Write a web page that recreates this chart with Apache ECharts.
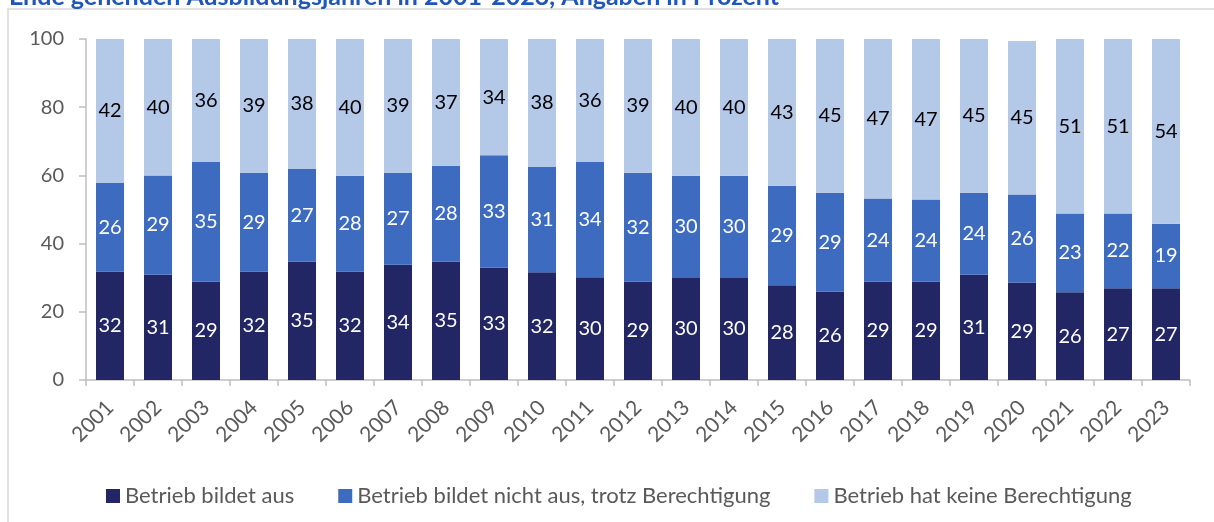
<!DOCTYPE html>
<html>
<head>
<meta charset="utf-8">
<script src="https://cdn.jsdelivr.net/npm/echarts@6/dist/echarts.min.js"></script>
<style>
  html, body { margin: 0; padding: 0; background: #fff; }
  #chart { width: 1214px; height: 522px; }
</style>
</head>
<body>
<div id="chart"></div>
<script>
const years = ['2001', '2002', '2003', '2004', '2005', '2006', '2007', '2008', '2009', '2010', '2011', '2012',
  '2013', '2014', '2015', '2016', '2017', '2018', '2019', '2020', '2021', '2022', '2023'];

// Anteile in Prozent (aus dem Bild geschaetzt, Beschriftung gerundet)
const bildetAus = [31.8, 30.9, 28.8, 31.8, 34.7, 31.8, 33.8, 34.7, 32.9, 31.6, 30.1, 28.8,
  29.9, 29.9, 27.8, 25.9, 28.8, 28.8, 30.9, 28.6, 25.7, 26.9, 26.9];
const bildetNichtAus = [26.0, 29.1, 35.1, 28.9, 27.2, 28.1, 26.9, 28.1, 33.0, 30.9, 33.8, 32.0,
  30.0, 30.0, 29.2, 29.0, 24.4, 24.1, 24.0, 25.8, 23.1, 21.9, 18.9];
const keineBerechtigung = [42.2, 40.0, 36.1, 39.3, 38.1, 40.1, 39.3, 37.2, 34.1, 37.6, 36.1, 39.2,
  40.1, 40.1, 43.0, 45.1, 46.8, 47.1, 45.1, 45.0, 51.2, 51.2, 54.2];

const seriesNames = ['Betrieb bildet aus', 'Betrieb bildet nicht aus, trotz Berechtigung', 'Betrieb hat keine Berechtigung'];
const yTicks = { min: 0, max: 100, interval: 20 };

const font = 'Lato';
const grey = '#595959';

const chart = echarts.init(document.getElementById('chart'));

function barSeries(name, data, color, labelColor) {
  return {
    name: name,
    type: 'bar',
    stack: 'total',
    data: data,
    barWidth: 28,
    itemStyle: { color: color },
    label: {
      show: true,
      position: 'inside',
      color: labelColor,
      fontFamily: font,
      fontSize: 20,
      formatter: p => Math.round(p.value)
    }
  };
}

chart.setOption({
  animation: false,
  title: {
    text: 'Ende gehenden Ausbildungsjahren in 2001-2023, Angaben in Prozent',
    left: 4,
    top: -21,
    textStyle: { color: '#1f56b8', fontSize: 25, fontWeight: 'bold', fontFamily: font }
  },
  graphic: [{
    type: 'rect',
    shape: { x: 8, y: 9, width: 1300, height: 700 },
    style: { fill: 'none', stroke: '#d9d9d9', lineWidth: 1.5 },
    silent: true
  }],
  legend: {
    data: seriesNames,
    left: 101,
    top: 480,
    icon: 'rect',
    itemWidth: 14,
    itemHeight: 14,
    itemGap: 44,
    textStyle: { color: grey, fontSize: 22, fontFamily: font }
  },
  grid: { left: 86, right: 24, top: 39, bottom: 142, containLabel: false },
  xAxis: {
    type: 'category',
    data: years,
    axisLine: { lineStyle: { color: '#bfbfbf', width: 1.5 } },
    axisTick: { show: true, length: 6, lineStyle: { color: '#bfbfbf', width: 1.5 } },
    axisLabel: { rotate: 45, color: grey, fontSize: 21, fontFamily: font, margin: 24 }
  },
  yAxis: {
    type: 'value',
    min: yTicks.min,
    max: yTicks.max,
    interval: yTicks.interval,
    axisLine: { show: true, lineStyle: { color: '#bfbfbf', width: 1.5 } },
    axisTick: { show: true, length: 7, lineStyle: { color: '#bfbfbf', width: 1.5 } },
    splitLine: { show: false },
    axisLabel: { color: grey, fontSize: 20, fontFamily: font, margin: 22 }
  },
  series: [
    barSeries(seriesNames[0], bildetAus, '#232664', '#ffffff'),
    barSeries(seriesNames[1], bildetNichtAus, '#3c6bbf', '#ffffff'),
    barSeries(seriesNames[2], keineBerechtigung, '#b4c8e8', '#000000')
  ]
});
</script>
</body>
</html>
